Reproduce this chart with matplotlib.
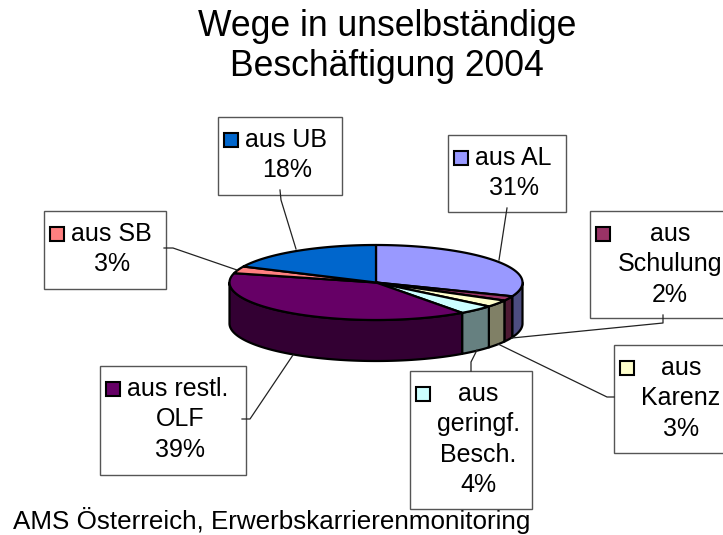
import numpy as np
import matplotlib
matplotlib.use("Agg")
import matplotlib.pyplot as plt
from matplotlib.patches import Polygon, Rectangle

plt.rcParams['font.family'] = ['Liberation Sans', 'DejaVu Sans']

# data, clockwise from 12 o'clock
names = ["aus AL", "aus\nSchulung", "aus\nKarenz", "aus\ngeringf.\nBesch.", "aus restl.\nOLF", "aus SB", "aus UB"]
shares = [31, 2, 3, 4, 39, 3, 18]
top_colors = ["#9999FF", "#993366", "#FFFFCC", "#CCFFFF", "#660066", "#FF8080", "#0066CC"]
side_colors = ["#4D4D80", "#4D1A33", "#808066", "#668080", "#330033", "#804040", "#003366"]
key_hugs_text = [True, False, False, False, True, True, True]

# label boxes: left, top, right, bottom in pixels
boxes = [(448, 135, 566, 212), (590, 211, 735, 318), (614, 345, 733, 453), (410, 371, 532, 509),
         (100, 366, 246, 475), (44, 211, 166, 289), (218, 117, 342, 195)]
# leader lines, in pixels
leaders = [[(507, 208), (499, 260)], [(663, 315), (663, 323), (512, 338)], [(614, 397), (607, 397), (498, 344)],
           [(471, 371), (471, 362), (477, 350)], [(242, 419), (250, 419), (293, 355)],
           [(164, 248), (173, 248), (237, 270)], [(280, 190), (281, 200), (296, 249)]]

cx, cy, rx, ry, depth = 376, 282.5, 146.5, 37.5, 41

fig = plt.figure(figsize=(7.23, 5.35), dpi=100)
ax = fig.add_axes([0, 0, 1, 1])
ax.set_xlim(0, 723)
ax.set_ylim(535, 0)
ax.axis("off")


def rim(a, b):
    # points on the ellipse edge, angles clockwise from the top
    t = np.radians(np.linspace(a, b, max(int(abs(b - a) * 2), 2)))
    return np.column_stack([cx + rx * np.sin(t), cy - ry * np.cos(t)])


edges = np.concatenate([[0], np.cumsum(shares)]) * 3.6

# side walls, only the front half (90..270 degrees) shows
for i in range(len(shares)):
    a, b = max(edges[i], 90), min(edges[i + 1], 270)
    if a >= b:
        continue
    front = rim(a, b)
    wall = np.vstack([front, (front + [0, depth])[::-1]])
    ax.add_patch(Polygon(wall, closed=True, fc=side_colors[i], ec="black", lw=1.6, joinstyle="round", zorder=2))

# top faces
for i in range(len(shares)):
    face = np.vstack([[cx, cy], rim(edges[i], edges[i + 1])])
    ax.add_patch(Polygon(face, closed=True, fc=top_colors[i], ec="black", lw=1.6, joinstyle="round", zorder=3))

# label boxes and leaders
for i, (l, t, r, b) in enumerate(boxes):
    ax.add_patch(Rectangle((l, t), r - l, b - t, fc="white", ec="#555555", lw=1.0, zorder=4))
    lines = names[i].split("\n") + [f"{shares[i]}%"]
    mid = (l + r) / 2 + 7.5
    for j, s in enumerate(lines):
        y = t + 23 + 30.3 * j
        if j == 0 and key_hugs_text[i]:
            ax.text(l + 27, y, s, fontsize=18, ha="left", va="center", color="black", zorder=6)
        else:
            ax.text(mid, y, s, fontsize=18, ha="center", va="center", color="black", zorder=6)
    ax.add_patch(Rectangle((l + 6, t + 16), 14, 14, fc=top_colors[i], ec="black", lw=1.5, zorder=6))

for pts in leaders:
    p = np.array(pts)
    ax.plot(p[:, 0], p[:, 1], color="#222222", lw=0.9, zorder=5)

title_lines = ["Wege in unselbständige", "Beschäftigung 2004"]
ax.text(387, 27, title_lines[0], fontsize=25.6, ha="center", va="center", color="black")
ax.text(387, 67, title_lines[1], fontsize=25.6, ha="center", va="center", color="black")
ax.text(13, 529, "AMS Österreich, Erwerbskarrierenmonitoring", fontsize=18.7, ha="left", va="baseline", color="black")

fig.savefig("out.png", dpi=100)
